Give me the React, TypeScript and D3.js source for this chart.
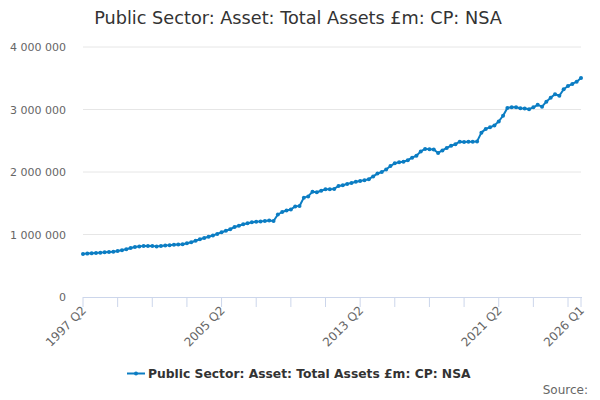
import React from "react";
import * as d3 from "d3";

const startYear = 1997;
const startQuarter = 2;
const values: number[] = [
  690000, 695000, 700000, 705000, 710000, 715000, 720000, 725000, 735000, 750000,
  765000, 785000, 800000, 810000, 815000, 815000, 815000, 810000, 815000, 825000,
  830000, 835000, 840000, 845000, 860000, 875000, 900000, 925000, 945000, 965000,
  985000, 1010000, 1035000, 1060000, 1085000, 1120000, 1140000, 1165000, 1180000, 1195000,
  1205000, 1210000, 1215000, 1225000, 1215000, 1320000, 1360000, 1385000, 1400000, 1450000,
  1455000, 1590000, 1610000, 1685000, 1675000, 1700000, 1725000, 1725000, 1730000, 1776000,
  1787000, 1810000, 1825000, 1845000, 1855000, 1870000, 1885000, 1930000, 1975000, 2000000,
  2040000, 2095000, 2140000, 2155000, 2165000, 2190000, 2230000, 2260000, 2330000, 2370000,
  2365000, 2360000, 2305000, 2345000, 2385000, 2420000, 2445000, 2485000, 2480000, 2485000,
  2485000, 2490000, 2630000, 2690000, 2715000, 2745000, 2810000, 2900000, 3025000, 3035000,
  3035000, 3020000, 3015000, 3005000, 3035000, 3075000, 3045000, 3125000, 3190000, 3245000,
  3220000, 3325000, 3375000, 3410000, 3445000, 3505000,
];
const yTicks = [0, 1000000, 2000000, 3000000, 4000000];
const labelledQuarters = ["1997 Q2", "2005 Q2", "2013 Q2", "2021 Q2", "2026 Q1"];
const title = "Public Sector: Asset: Total Assets £m: CP: NSA";
const seriesName = "Public Sector: Asset: Total Assets £m: CP: NSA";

const quarterLabel = (i: number) => {
  const q0 = startQuarter - 1 + i;
  return `${startYear + Math.floor(q0 / 4)} Q${(q0 % 4) + 1}`;
};

const fmt = (v: number) => d3.format(",")(v).replace(/,/g, " ");

export default function App() {
  const W = 600, H = 400;
  const left = 83, right = 581, top = 47, bottom = 297;
  const n = values.length;
  const x = d3.scaleLinear().domain([0, n - 1]).range([left, right]);
  const y = d3.scaleLinear().domain([0, 4000000]).range([bottom, top]);
  const line = d3.line<number>().x((_, i) => x(i)).y((d) => y(d));
  const color = "#0b7dc3";
  const font = "'DejaVu Sans', sans-serif";

  // tick marks every 2 years from start, plus the last point
  const tickIdx: number[] = [];
  for (let i = 0; i < n; i += 8) tickIdx.push(i);
  if (tickIdx[tickIdx.length - 1] !== n - 1) tickIdx.push(n - 1);
  const labelIdx = d3.range(n).filter((i) => labelledQuarters.includes(quarterLabel(i)));

  return (
    <div style={{ position: "fixed", left: 0, top: 0 }}>
      <svg width={W} height={H} style={{ display: "block", fontFamily: font }}>
        <rect width={W} height={H} fill="#ffffff" />
        <text x={W / 2 - 2} y={24} textAnchor="middle" fontSize={17.7} fill="#333333">
          {title}
        </text>
        {yTicks.map((t) => (
          <g key={t}>
            {t > 0 && (
              <line x1={left} x2={right} y1={y(t)} y2={y(t)} stroke="#e6e6e6" strokeWidth={1} />
            )}
            <text x={66} y={y(t) + 4} textAnchor="end" fontSize={11} fill="#666666">
              {fmt(t)}
            </text>
          </g>
        ))}
        <line x1={left} x2={right + 1} y1={bottom + 0.5} y2={bottom + 0.5} stroke="#ccd6eb" strokeWidth={1} />
        {tickIdx.map((i) => (
          <line key={i} x1={x(i)} x2={x(i)} y1={bottom} y2={bottom + 10} stroke="#ccd6eb" strokeWidth={1} />
        ))}
        {labelIdx.map((i) => (
          <text
            key={i}
            transform={`translate(${x(i) + 4},${bottom + 14}) rotate(-45)`}
            textAnchor="end"
            fontSize={12}
            fill="#666666"
          >
            {quarterLabel(i)}
          </text>
        ))}
        <path d={line(values) || ""} fill="none" stroke={color} strokeWidth={2} strokeLinejoin="round" />
        {values.map((v, i) => (
          <circle key={i} cx={x(i)} cy={y(v)} r={2} fill={color} />
        ))}
        <g>
          <line x1={127} x2={145} y1={373.5} y2={373.5} stroke={color} strokeWidth={2} />
          <circle cx={136} cy={373.5} r={2} fill={color} />
          <text x={148} y={378} fontSize={12.3} fontWeight="bold" fill="#333333">
            {seriesName}
          </text>
        </g>
        <text x={588} y={394} textAnchor="end" fontSize={12} fill="#666666">
          Source:
        </text>
      </svg>
    </div>
  );
}
